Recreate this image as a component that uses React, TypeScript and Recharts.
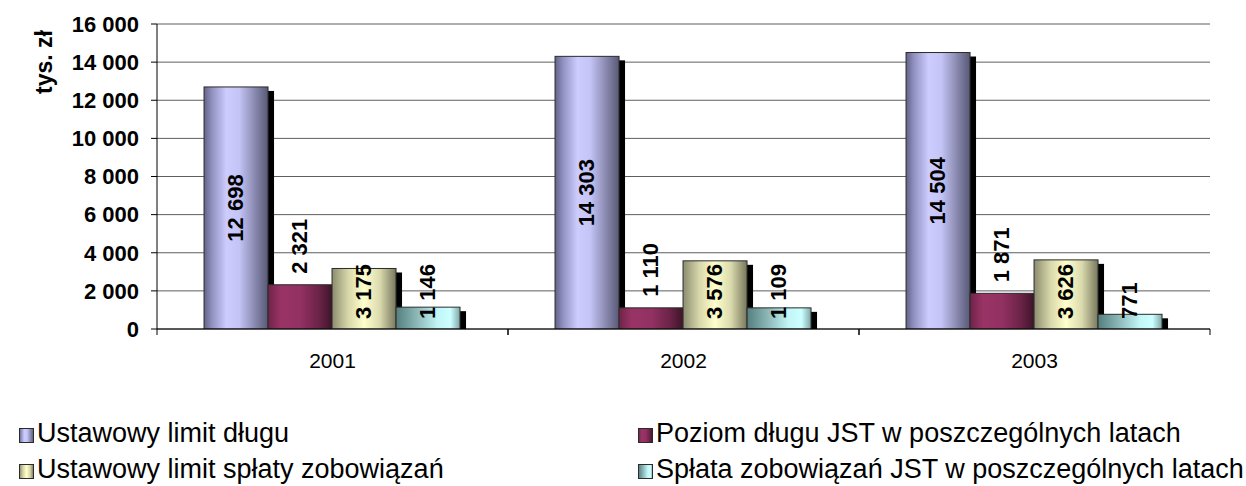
import React from 'react';
import { BarChart, Bar, XAxis, YAxis, CartesianGrid, Legend, LabelList } from 'recharts';

const years = ['2001', '2002', '2003'];
const limitDlugu = [12698, 14303, 14504];
const poziomDlugu = [2321, 1110, 1871];
const limitSplaty = [3175, 3576, 3626];
const splataZobowiazan = [1146, 1109, 771];
const yTicks = [0, 2000, 4000, 6000, 8000, 10000, 12000, 14000, 16000];

const seriesNames = [
  'Ustawowy limit długu',
  'Poziom długu JST w poszczególnych latach',
  'Ustawowy limit spłaty zobowiązań',
  'Spłata zobowiązań JST w poszczególnych latach',
];
const seriesKeys = ['limit', 'poziom', 'limitSplaty', 'splata'];
// label placement per series, imitating the Excel picture
const labelModes = ['center', 'above', 'bottom', 'bottom'];

const gradients = [
  [
    ['0%', '#626286'],
    ['12%', '#9090c0'],
    ['35%', '#ccccff'],
    ['55%', '#c4c4f6'],
    ['80%', '#8888ae'],
    ['100%', '#585876'],
  ],
  [
    ['0%', '#6e2448'],
    ['20%', '#993366'],
    ['50%', '#933163'],
    ['80%', '#6a2346'],
    ['100%', '#3e1429'],
  ],
  [
    ['0%', '#8c8c70'],
    ['25%', '#d6d6aa'],
    ['50%', '#ffffcc'],
    ['75%', '#d9d9ad'],
    ['100%', '#77775d'],
  ],
  [
    ['0%', '#557f7f'],
    ['30%', '#88b3b3'],
    ['65%', '#c2f5f5'],
    ['85%', '#ccffff'],
    ['100%', '#7fa6a6'],
  ],
];

const data = years.map((year, i) => ({
  year,
  limit: limitDlugu[i],
  poziom: poziomDlugu[i],
  limitSplaty: limitSplaty[i],
  splata: splataZobowiazan[i],
}));

const FONT = '"Liberation Sans", Arial, sans-serif';

const fmt = (v: number) => String(v).replace(/\B(?=(\d{3})+(?!\d))/g, ' ');

const ShadowBar = (props: any) => {
  const { x, y, width, height, fill } = props;
  if (!height || height <= 0) return null;
  return (
    <g>
      <rect x={x + 6} y={y + 4} width={width} height={Math.max(0, height - 4)} fill="#000" />
      <rect x={x} y={y} width={width} height={height} fill={fill} stroke="#2b2b2b" strokeWidth={1} />
    </g>
  );
};

const makeLabel = (mode: string) => (props: any) => {
  const { x, y, width, height, value } = props;
  const cx = x + width / 2 - 1;
  let ty = y + height / 2;
  let anchor: 'middle' | 'start' = 'middle';
  if (mode === 'above') {
    ty = y - 11;
    anchor = 'start';
  } else if (mode === 'bottom') {
    ty = y + height - 10;
    anchor = 'start';
  }
  return (
    <text
      x={cx}
      y={ty}
      transform={`rotate(-90, ${cx}, ${ty})`}
      textAnchor={anchor}
      dominantBaseline="central"
      fontFamily={FONT}
      fontWeight="bold"
      fontSize={22}
      fill="#000"
    >
      {fmt(value)}
    </text>
  );
};

const YearTick = (props: any) => {
  const { x, y, payload } = props;
  const half = payload?.offset ?? 0;
  return (
    <g>
      <line x1={x - half} y1={y} x2={x - half} y2={y + 6} stroke="#000" />
      <line x1={x + half} y1={y} x2={x + half} y2={y + 6} stroke="#000" />
      <text x={x} y={y + 24} dy="0.71em" textAnchor="middle" fontFamily={FONT} fontSize={21} fill="#000">
        {payload.value}
      </text>
    </g>
  );
};

const UnitLabel = (props: any) => {
  const vb = props.viewBox || { x: 0, y: 0 };
  const lx = vb.x + 44;
  const ly = vb.y + 38;
  return (
    <text
      x={lx}
      y={ly}
      transform={`rotate(-90, ${lx}, ${ly})`}
      textAnchor="middle"
      dominantBaseline="central"
      fontFamily={FONT}
      fontWeight="bold"
      fontSize={23}
      fill="#000"
    >
      tys. zł
    </text>
  );
};

const Swatch = ({ index }: { index: number }) => {
  const stops = gradients[index];
  return (
    <svg width={15} height={15} style={{ display: 'block', marginTop: 4 }}>
      <defs>
        <linearGradient id={`lg-${index}`} x1="0" y1="0" x2="1" y2="0">
          {stops.map(([o, c]) => (
            <stop key={o} offset={o} stopColor={c} />
          ))}
        </linearGradient>
      </defs>
      <rect x={0.5} y={0.5} width={14} height={14} fill={`url(#lg-${index})`} stroke="#2b2b2b" />
    </svg>
  );
};

const renderLegend = () => {
  const cols = [19, 638];
  return (
    <div style={{ position: 'relative', width: 1246, height: 72, fontFamily: FONT, fontSize: 27, color: '#000' }}>
      {seriesNames.map((name, i) => (
        <div
          key={name}
          style={{
            position: 'absolute',
            left: cols[i % 2],
            top: Math.floor(i / 2) * 36,
            height: 36,
            display: 'flex',
            alignItems: 'center',
            whiteSpace: 'nowrap',
          }}
        >
          <Swatch index={i} />
          <span style={{ marginLeft: 3 }}>{name}</span>
        </div>
      ))}
    </div>
  );
};

export default function App() {
  return (
    <div style={{ position: 'absolute', left: 0, top: 0, width: 1246, height: 486, overflow: 'hidden', background: '#fff' }}>
      <BarChart
        width={1246}
        height={486}
        data={data}
        margin={{ top: 24, right: 36, left: 0, bottom: 0 }}
        barCategoryGap="13.4%"
        barGap={0}
      >
        <defs>
          {gradients.map((stops, i) => (
            <linearGradient key={i} id={`bar-grad-${i}`} x1="0" y1="0" x2="1" y2="0">
              {stops.map(([o, c]) => (
                <stop key={o} offset={o} stopColor={c} />
              ))}
            </linearGradient>
          ))}
        </defs>
        <CartesianGrid vertical={false} stroke="#5e5e5e" />
        <XAxis
          dataKey="year"
          height={157}
          axisLine={{ stroke: '#000' }}
          tickLine={false}
          tickSize={0}
          tickMargin={0}
          tick={<YearTick />}
          interval={0}
        />
        <YAxis
          width={157}
          domain={[0, 16000]}
          ticks={yTicks}
          allowDataOverflow
          axisLine={{ stroke: '#000' }}
          tickLine={{ stroke: '#000' }}
          tickSize={6}
          tickMargin={12}
          tickFormatter={fmt}
          tick={{ fontFamily: FONT, fontWeight: 'bold', fontSize: 22, fill: '#000' }}
          label={<UnitLabel />}
        />
        <Legend
          layout="horizontal"
          verticalAlign="middle"
          align="center"
          wrapperStyle={{ left: 0, top: 415, width: 1246 }}
          content={renderLegend}
        />
        {seriesKeys.map((key, i) => (
          <Bar
            key={key}
            dataKey={key}
            name={seriesNames[i]}
            fill={`url(#bar-grad-${i})`}
            shape={<ShadowBar />}
            isAnimationActive={false}
          >
            <LabelList dataKey={key} content={makeLabel(labelModes[i])} />
          </Bar>
        ))}
      </BarChart>
    </div>
  );
}
